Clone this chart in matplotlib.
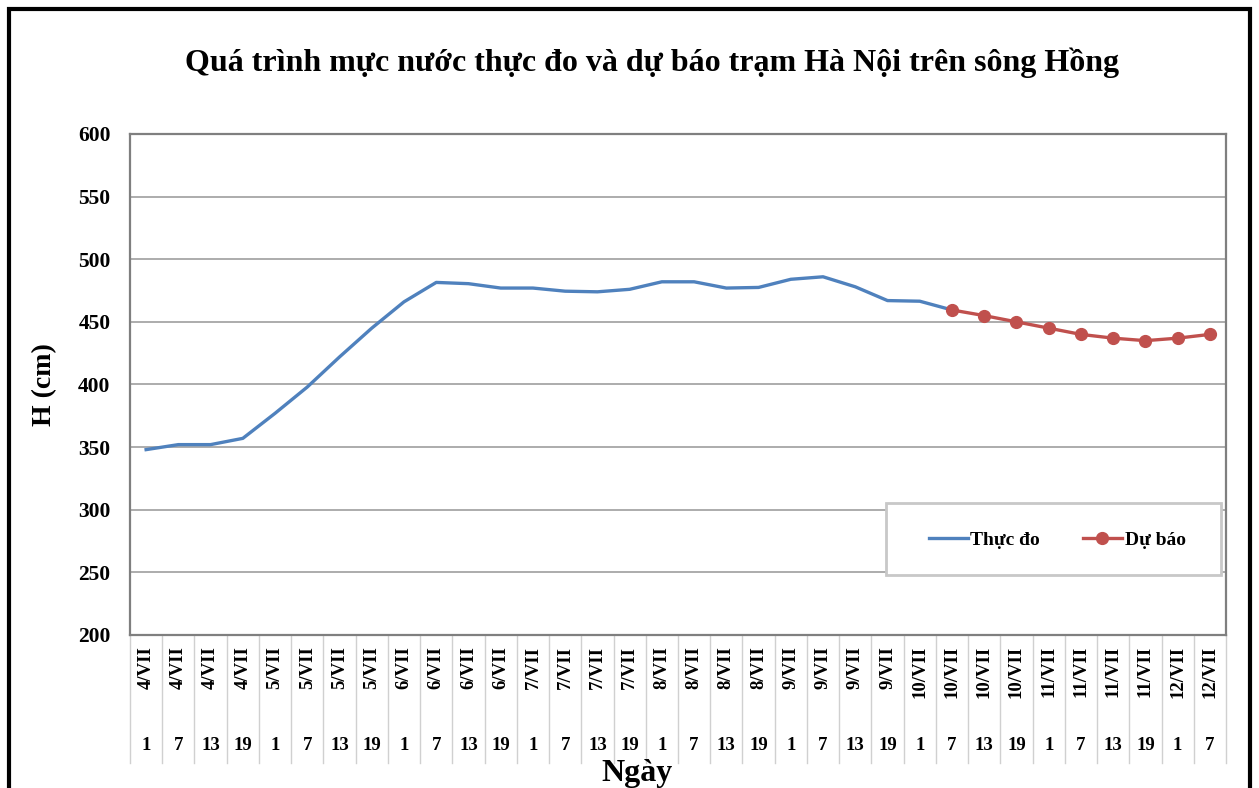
import matplotlib
matplotlib.use("Agg")
import matplotlib.pyplot as plt
from matplotlib.patches import Rectangle

plt.rcParams['font.family'] = ['Liberation Serif', 'DejaVu Serif']
plt.rcParams['font.weight'] = 'bold'
plt.rcParams['axes.labelweight'] = 'bold'

# dữ liệu
days = ['4/VII'] * 4 + ['5/VII'] * 4 + ['6/VII'] * 4 + ['7/VII'] * 4 + ['8/VII'] * 4 \
    + ['9/VII'] * 4 + ['10/VII'] * 4 + ['11/VII'] * 4 + ['12/VII'] * 2
hours = ['1', '7', '13', '19'] * 8 + ['1', '7']
thuc_do = [348, 352, 352, 357, 377, 398, 422, 445, 466, 481.5, 480.5, 477, 477,
           474.5, 474, 476, 482, 482, 477, 477.5, 484, 486, 478, 467, 466.5, 459.5]
du_bao = [459.5, 455, 450, 445, 440, 437, 435, 437, 440]
du_bao_start = 25

x_obs = list(range(len(thuc_do)))
x_fc = list(range(du_bao_start, du_bao_start + len(du_bao)))

fig = plt.figure(figsize=(12.59, 7.88), dpi=100)
ax = fig.add_axes([130 / 1259, 1 - 635 / 788, 1096 / 1259, 501 / 788])

ax.plot(x_obs, thuc_do, color='#4F81BD', lw=2.4, label='Thực đo', zorder=3)
ax.plot(x_fc, du_bao, color='#C0504D', lw=2.4, marker='o', ms=8.5, label='Dự báo', zorder=4)

ax.set_ylim(200, 600)
ax.set_xlim(-0.5, len(days) - 0.5)
ax.set_yticks(range(200, 601, 50))
ax.tick_params(axis='y', labelsize=15.5, length=0, pad=14)
ax.set_xticks([])
ax.grid(axis='y', color='#A6A6A6', lw=1.3)
ax.set_axisbelow(True)
for s in ax.spines.values():
    s.set_color('#7F7F7F')
    s.set_linewidth(1.6)

# bảng nhãn trục x
tr = ax.get_xaxis_transform()
for i in range(len(days) + 1):
    ax.plot([i - 0.5, i - 0.5], [0, -0.255], transform=tr, color='#D0D0D0', lw=1, clip_on=False)
for i, (d, h) in enumerate(zip(days, hours)):
    ax.text(i, -0.022, d, transform=tr, rotation=90, ha='center', va='top', fontsize=13.5)
    ax.text(i, -0.22, h, transform=tr, ha='center', va='center', fontsize=13.5)

ax.set_ylabel('H (cm)', fontsize=20, labelpad=15)
fig.text(637 / 1259, 1 - 773 / 788, 'Ngày', ha='center', va='center', fontsize=23)
fig.text(652 / 1259, 1 - 63 / 788, 'Quá trình mực nước thực đo và dự báo trạm Hà Nội trên sông Hồng',
         ha='center', va='center', fontsize=23)

# chú giải
ax.add_patch(Rectangle((0.69, 0.12), 0.305, 0.143, transform=ax.transAxes, fill=True,
                       facecolor='white', edgecolor='#C8C8C8', lw=2, zorder=5))
ax.legend(loc='center', bbox_to_anchor=(0.846, 0.19), ncol=2, frameon=False,
          fontsize=14, handlelength=2.0, columnspacing=2.2, handletextpad=0.15)

# khung ngoài
fig.patches.append(Rectangle((9 / 1259, -0.05), 1241 / 1259, 1.05 - 9 / 788,
                             transform=fig.transFigure, fill=False, edgecolor='black', lw=3))

fig.savefig('out.png', dpi=100)
